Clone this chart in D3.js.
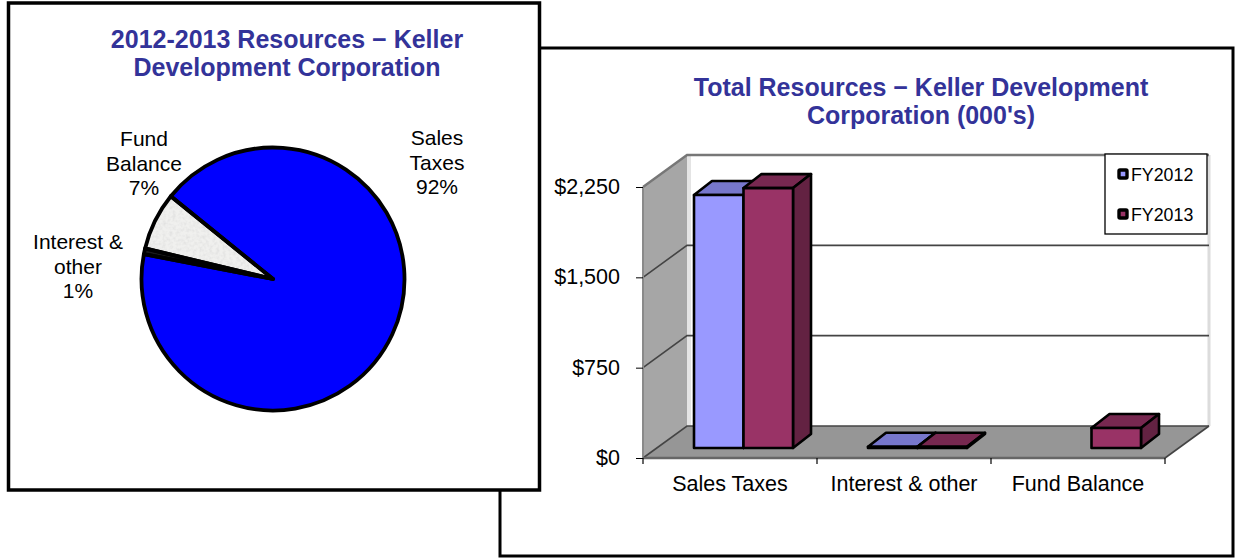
<!DOCTYPE html>
<html><head><meta charset="utf-8">
<script src="https://cdnjs.cloudflare.com/ajax/libs/d3/7.8.5/d3.min.js"></script>
<style>html,body{margin:0;padding:0;background:#fff}svg{display:block}text{font-family:"Liberation Sans",Arial,sans-serif}</style>
</head><body><svg id="c" width="1235" height="558"></svg>
<script>
const pieCategories=["Sales Taxes","Interest & other","Fund Balance"];
const pieValues=[92.2,0.7,7.1];
const pieLabels=[["Sales","Taxes","92%"],["Interest &","other","1%"],["Fund","Balance","7%"]];
const barCategories=["Sales Taxes","Interest & other","Fund Balance"];
const fy2012=[2100,10,null];
const fy2013=[2158,10,166];
const seriesNames=["FY2012","FY2013"];
const yTicks=[0,750,1500,2250];

const svg=d3.select("#c");
const defs=svg.append("defs");
const f=defs.append("filter").attr("id","mottle").attr("x",0).attr("y",0).attr("width",1).attr("height",1);
f.append("feTurbulence").attr("type","fractalNoise").attr("baseFrequency",0.3).attr("numOctaves",2).attr("seed",4).attr("result","n");
f.append("feColorMatrix").attr("in","n").attr("type","matrix").attr("values","0 0 0 0 0.7 0 0 0 0 0.7 0 0 0 0 0.7 1.4 0 0 0 -0.55").attr("result","s");
f.append("feComposite").attr("in","s").attr("in2","SourceAlpha").attr("operator","in").attr("result","c");
f.append("feMerge").selectAll("feMergeNode").data(["SourceGraphic","c"]).join("feMergeNode").attr("in",d=>d);

const titleColor="#333399", ink="#000";
function title(g,lines,cx,y0){
  g.selectAll(null).data(lines).join("text").attr("x",cx).attr("y",(d,i)=>y0+i*28)
   .attr("text-anchor","middle").attr("font-size",25).attr("font-weight","bold").attr("fill",titleColor).text(d=>d);
}

// Right panel
const R=svg.append("g");
R.append("rect").attr("x",500).attr("y",48).attr("width",733).attr("height",508).attr("fill","#fff").attr("stroke",ink).attr("stroke-width",3);
title(R,["Total Resources − Keller Development","Corporation (000's)"],921,96);

const depth={x:44,y:-32};
const barDepth={x:18,y:-14};
const barLift=10;
const x=d3.scaleBand().domain(barCategories).range([643,1165]);
const y=d3.scaleLinear().domain([0,2250]).range([458,187]);
const inner=d3.scaleBand().domain(seriesNames).range([51,150]);
const pts=a=>a.map(p=>p.join(",")).join(" ");
const x0=x.range()[0],x1=x.range()[1],y0=y(0),yT=y(2250);

R.append("rect").attr("x",x0+depth.x).attr("y",yT+depth.y).attr("width",x1-x0).attr("height",y0-yT).attr("fill","#fff");
R.append("polygon").attr("points",pts([[x0,y0],[x0+depth.x,y0+depth.y],[x0+depth.x,yT+depth.y],[x0,yT]])).attr("fill","#a6a6a6");
R.append("polygon").attr("points",pts([[x0,y0],[x1,y0],[x1+depth.x,y0+depth.y],[x0+depth.x,y0+depth.y]])).attr("fill","#969696");
// back wall soft edges
R.append("line").attr("x1",x0+depth.x+2).attr("x2",x0+depth.x+2).attr("y1",yT+depth.y).attr("y2",y0+depth.y).attr("stroke","#e4e4e4").attr("stroke-width",4);
R.append("line").attr("x1",x1+depth.x).attr("x2",x1+depth.x).attr("y1",yT+depth.y).attr("y2",y0+depth.y).attr("stroke","#dcdcdc").attr("stroke-width",3);
// gridlines
yTicks.forEach(t=>{
  R.append("polyline").attr("fill","none").attr("stroke",t===2250?"#777":"#444").attr("stroke-width",t===2250?2.4:1.6)
   .attr("points",pts([[x0,y(t)],[x0+depth.x,y(t)+depth.y],[x1+depth.x,y(t)+depth.y]]));
});
R.append("line").attr("x1",x0).attr("x2",x0).attr("y1",yT).attr("y2",y0).attr("stroke","#8a8a8a").attr("stroke-width",2);
R.append("line").attr("x1",x0).attr("x2",x1).attr("y1",y0).attr("y2",y0).attr("stroke","#666").attr("stroke-width",2.4);
R.append("line").attr("x1",x1).attr("x2",x1+depth.x).attr("y1",y0).attr("y2",y0+depth.y).attr("stroke","#444").attr("stroke-width",1.6);

// axes
const ax=R.append("g").attr("transform",`translate(${x0},0)`).call(d3.axisLeft(y).tickValues(yTicks).tickSize(7).tickPadding(6).tickFormat(d=>"$"+d3.format(",")(d)));
ax.select(".domain").remove();
ax.selectAll("text").attr("font-size",21.5).attr("fill",ink).attr("font-family",'"Liberation Sans",Arial,sans-serif').attr("dx",-10).attr("dy","0.3em");
const axb=R.append("g").attr("transform",`translate(0,${y0})`).call(d3.axisBottom(x).tickSize(0).tickPadding(16));
axb.select(".domain").remove();
axb.selectAll("text").attr("font-size",21.5).attr("fill",ink).attr("font-family",'"Liberation Sans",Arial,sans-serif').attr("dy","0.78em");
const tickXs=barCategories.map(c=>x(c)).concat([x1]);
R.selectAll(null).data(tickXs).join("line").attr("x1",d=>d).attr("x2",d=>d).attr("y1",y0).attr("y2",y0+6).attr("stroke",ink).attr("stroke-width",1.2);

// bars
const palette={FY2012:{front:"#9999ff",top:"#7777cc",side:"#6666a8"},FY2013:{front:"#993366",top:"#772850",side:"#632242"}};
[["FY2012",fy2012],["FY2013",fy2013]].forEach(([name,vals])=>{
  const c=palette[name];
  const g=R.append("g");
  barCategories.forEach((cat,i)=>{
    const v=vals[i]; if(v==null) return;
    const l=x(cat)+inner(name), r=l+inner.bandwidth();
    const b=y(0)-barLift, t=y(v)-barLift;
    const st={stroke:"#000","stroke-width":2.6,"stroke-linejoin":"round"};
    const draw=(p,fill)=>{const e=g.append("polygon").attr("points",pts(p)).attr("fill",fill);Object.entries(st).forEach(([k,w])=>e.attr(k,w));};
    draw([[l,t],[r,t],[r+barDepth.x,t+barDepth.y],[l+barDepth.x,t+barDepth.y]],c.top);
    draw([[r,t],[r,b],[r+barDepth.x,b+barDepth.y],[r+barDepth.x,t+barDepth.y]],c.side);
    draw([[l,t],[r,t],[r,b],[l,b]],c.front);
  });
});

// legend
const lg=R.append("g");
lg.append("rect").attr("x",1105).attr("y",154).attr("width",102).attr("height",80).attr("fill","#fff").attr("stroke",ink).attr("stroke-width",1.3);
seriesNames.forEach((n,i)=>{
  const cy=174+i*40;
  lg.append("rect").attr("x",1119).attr("y",cy-4).attr("width",8).attr("height",8).attr("rx",1).attr("fill",palette[n].front).attr("stroke","#000").attr("stroke-width",3.4);
  lg.append("text").attr("x",1131).attr("y",cy+6.5).attr("font-size",17.8).attr("fill",ink).text(n);
});

// Left panel
const L=svg.append("g");
L.append("rect").attr("x",8.5).attr("y",3).attr("width",531).attr("height",487).attr("fill","#fff").attr("stroke",ink).attr("stroke-width",3.5);
title(L,["2012-2013 Resources − Keller","Development Corporation"],287,48);

const pieColors=["#0000ff","#1a1a1a","#f0f0ee"];
const pie=d3.pie().sort(null).startAngle(309*Math.PI/180).endAngle((309+360)*Math.PI/180)(pieValues);
const arc=d3.arc().innerRadius(0).outerRadius(131.5);
const pg=L.append("g").attr("transform","translate(273,279)");
pg.selectAll("path.fill").data(pie).join("path").attr("class","fill").attr("d",arc)
  .attr("fill",(d,i)=>pieColors[i]).attr("filter",(d,i)=>i===2?"url(#mottle)":null);
pg.selectAll("path.edge").data(pie).join("path").attr("class","edge").attr("d",arc)
  .attr("fill","none").attr("stroke","#000").attr("stroke-width",3.8).attr("stroke-linejoin","round");
const labelPos=[[437,145],[78,249],[144,146]];
pieLabels.forEach((ls,i)=>{
  L.selectAll(null).data(ls).join("text").attr("x",labelPos[i][0]).attr("y",(d,j)=>labelPos[i][1]+j*24.5)
   .attr("text-anchor","middle").attr("font-size",21).attr("fill",ink).text(d=>d);
});
</script></body></html>
